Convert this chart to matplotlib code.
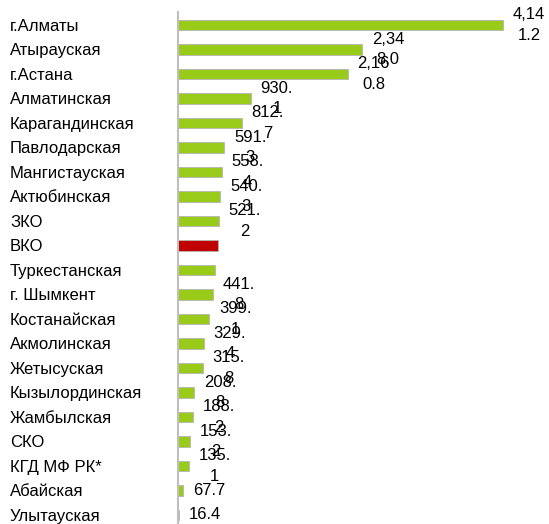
import textwrap
import matplotlib.pyplot as plt

plt.rcParams['font.family'] = ['Liberation Sans', 'DejaVu Sans']

regions = ['г.Алматы', 'Атырауская', 'г.Астана', 'Алматинская', 'Карагандинская',
           'Павлодарская', 'Мангистауская', 'Актюбинская', 'ЗКО', 'ВКО',
           'Туркестанская', 'г. Шымкент', 'Костанайская', 'Акмолинская', 'Жетысуская',
           'Кызылординская', 'Жамбылская', 'СКО', 'КГД МФ РК*', 'Абайская', 'Улытауская']
values = [4141.2, 2348.0, 2160.8, 930.1, 812.7,
          591.3, 558.4, 540.3, 521.2, 505.0,
          468.0, 441.8, 399.1, 329.4, 315.8,
          208.8, 188.2, 153.2, 135.1, 67.7, 16.4]
# the reference shows no value label for these two bars
no_label = ['ВКО', 'Туркестанская']
highlight = 'ВКО'

green = '#99CC1A'
red = '#C00000'

fig = plt.figure(figsize=(5.49, 5.24), dpi=100)
ax = fig.add_axes([178 / 549, 0, 371 / 549, 1 - 12 / 524])

y = list(range(len(regions)))
colors = [red if r == highlight else green for r in regions]
ax.barh(y, values, height=0.43, color=colors, edgecolor='#B5B5B5', linewidth=0.6)

ax.set_xlim(0, 4141.2 * 371 / 325)
ax.set_ylim(20 + 9 / 24.5, -0.53)

# value labels, wrapped at 4 characters like the original (they overlap there too)
for yi, r, v in zip(y, regions, values):
    if r in no_label:
        continue
    txt = '\n'.join(textwrap.wrap(f'{v:,.1f}', 4))
    ax.annotate(txt, (v, yi), xytext=(7, 0), textcoords='offset points',
                ha='left', va='center', multialignment='center', fontsize=12,
                linespacing=1.45)

ax.set_yticks(y)
ax.set_yticklabels(regions, fontsize=12, ha='left')
ax.tick_params(axis='y', length=0, pad=121)
ax.set_xticks([])

for s in ['top', 'right', 'bottom']:
    ax.spines[s].set_visible(False)
ax.spines['left'].set_color('#BFBFBF')
ax.spines['left'].set_linewidth(1.5)

fig.savefig('out.png', dpi=100)
